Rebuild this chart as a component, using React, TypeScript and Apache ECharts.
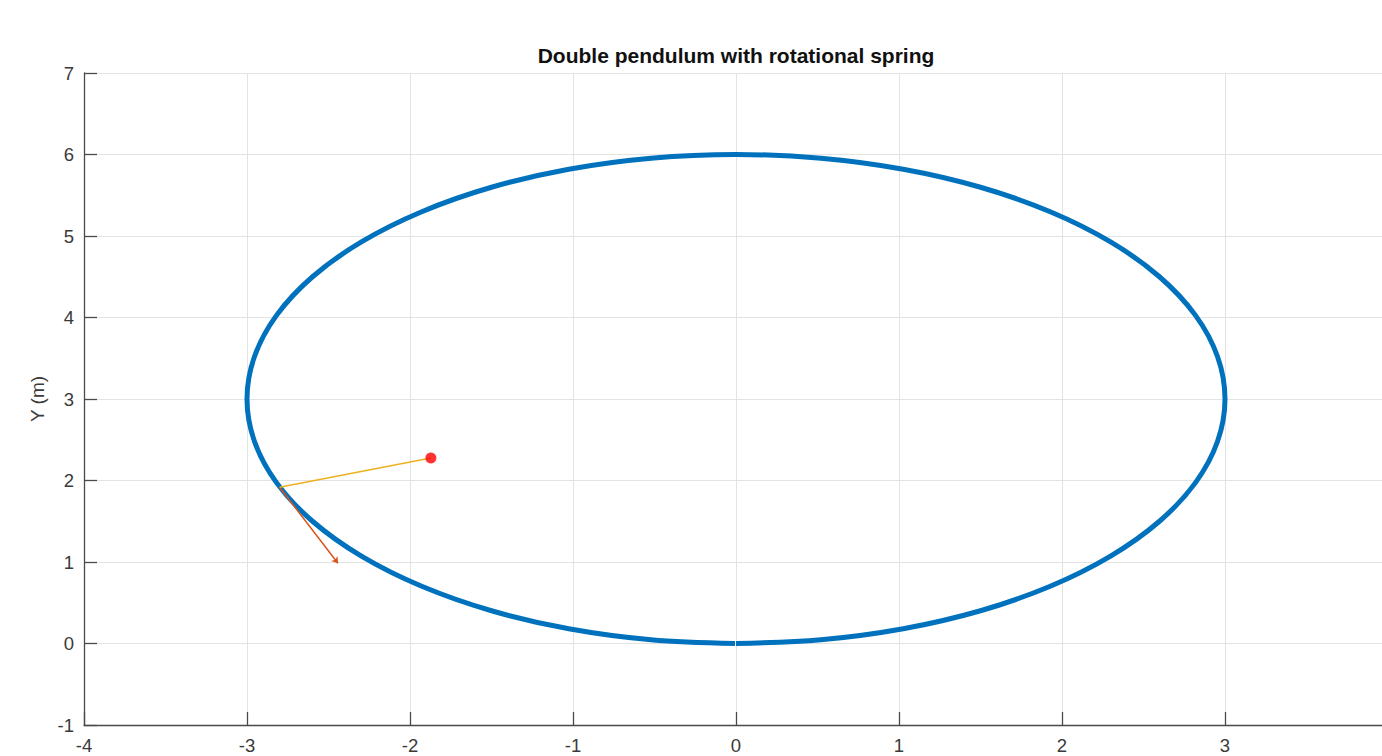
import React, { useEffect, useRef } from "react";
import * as echarts from "echarts";

const title = "Double pendulum with rotational spring";
const yAxisName = "Y (m)";

// Path of the bob: [x, y]
const pathX = [0, 0.521, 1.026, 1.5, 1.928, 2.298, 2.598, 2.819, 2.954, 3, 2.954, 2.819, 2.598, 2.298, 1.928, 1.5, 1.026, 0.521, 0, -0.521, -1.026, -1.5, -1.928, -2.298, -2.598, -2.819, -2.954, -3, -2.954, -2.819, -2.598, -2.298, -1.928, -1.5, -1.026, -0.521, -0.006];
const pathY = [0, 0.046, 0.181, 0.402, 0.702, 1.072, 1.5, 1.974, 2.479, 3, 3.521, 4.026, 4.5, 4.928, 5.298, 5.598, 5.819, 5.954, 6, 5.954, 5.819, 5.598, 5.298, 4.928, 4.5, 4.026, 3.521, 3, 2.479, 1.974, 1.5, 1.072, 0.702, 0.402, 0.181, 0.046, 0];

// Rod from the point on the path to the bob
const rodX = [-2.8, -1.872];
const rodY = [1.917, 2.276];
// Bob
const bob = [-1.872, 2.276];
// Velocity arrow
const arrowFrom = [-2.8, 1.917];
const arrowTo = [-2.442, 0.984];

const xMin = -4, xMax = 4, xStep = 1;
const yMin = -1, yMax = 7, yStep = 1;

export default function App() {
  const ref = useRef<HTMLDivElement>(null);
  useEffect(() => {
    if (!ref.current) return;
    const chart = echarts.init(ref.current, null, { renderer: "svg" });
    const font = "'Liberation Sans', Arial, Helvetica, sans-serif";
    const axisColor = "#4a4a4a";
    const labelColor = "#3a3a3a";
    chart.setOption({
      animation: false,
      backgroundColor: "#ffffff",
      textStyle: { fontFamily: font },
      title: {
        text: title,
        left: 731,
        textAlign: "center",
        top: 38,
        textStyle: { fontFamily: font, fontSize: 21, fontWeight: "bold", color: "#111", lineHeight: 24 },
      },
      grid: { left: 84, top: 73, width: 1304, height: 652, containLabel: false },
      xAxis: {
        type: "value",
        min: xMin,
        max: xMax,
        interval: xStep,
        axisLine: { show: true, onZero: false, lineStyle: { color: axisColor, width: 1.3 } },
        axisTick: { show: true, inside: true, length: 13, lineStyle: { color: axisColor, width: 1.3 } },
        axisLabel: { color: labelColor, fontSize: 18.5, fontFamily: font, margin: 11, lineHeight: 19 },
        splitLine: { show: true, lineStyle: { color: "#e3e3e3", width: 1 } },
      },
      yAxis: {
        type: "value",
        min: yMin,
        max: yMax,
        interval: yStep,
        name: yAxisName,
        nameLocation: "middle",
        nameGap: 28,
        nameRotate: 90,
        nameTextStyle: { color: labelColor, fontSize: 19, fontFamily: font },
        axisLine: { show: true, onZero: false, lineStyle: { color: axisColor, width: 1.3 } },
        axisTick: { show: true, inside: true, length: 13, lineStyle: { color: axisColor, width: 1.3 } },
        axisLabel: { color: labelColor, fontSize: 18.5, fontFamily: font, margin: 10 },
        splitLine: { show: true, lineStyle: { color: "#e3e3e3", width: 1 } },
      },
      series: [
        {
          type: "line",
          data: pathX.map((x, i) => [x, pathY[i]]),
          smooth: 0.35,
          showSymbol: false,
          symbol: "none",
          lineStyle: { color: "#0072BD", width: 5 },
          z: 2,
        },
        {
          type: "line",
          data: rodX.map((x, i) => [x, rodY[i]]),
          showSymbol: false,
          symbol: "none",
          lineStyle: { color: "#EDB120", width: 1.5 },
          z: 3,
        },
        {
          type: "lines",
          coordinateSystem: "cartesian2d",
          symbol: ["none", "arrow"],
          symbolSize: 6,
          data: [{ coords: [arrowFrom, arrowTo] }],
          lineStyle: { color: "#D95319", width: 1.5, opacity: 1 },
          z: 3,
        },
        {
          type: "scatter",
          data: [bob],
          symbol: "circle",
          symbolSize: 11,
          itemStyle: { color: "#FF0000" },
          z: 4,
        },
      ],
    });
    return () => chart.dispose();
  }, []);
  return (
    <div style={{ position: "fixed", left: 0, top: 0, width: 1382, height: 756, overflow: "hidden", background: "#fff" }}>
      <div ref={ref} style={{ width: 1400, height: 756 }} />
    </div>
  );
}
